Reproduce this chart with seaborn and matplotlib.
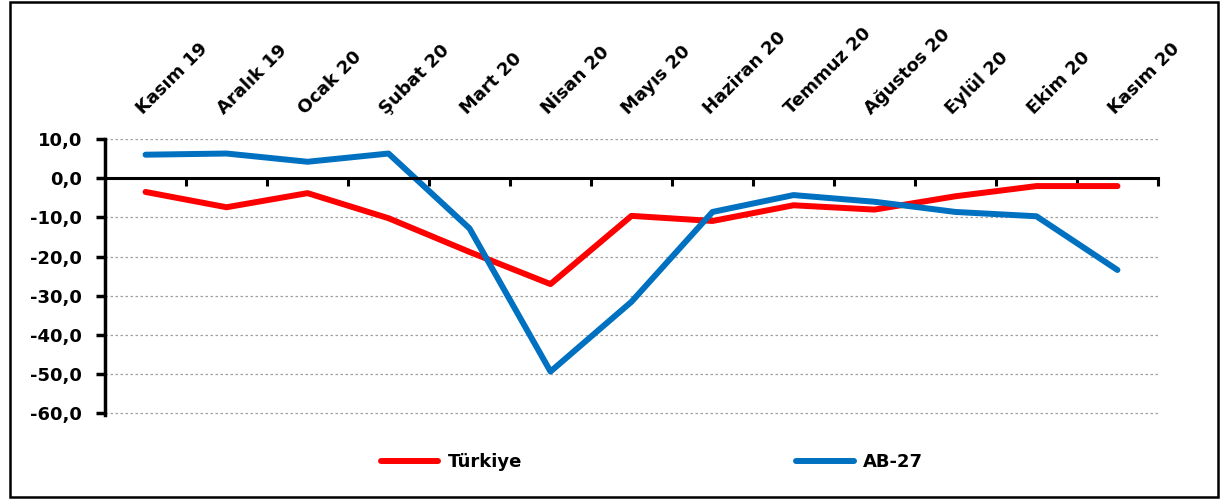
import numpy as np
import pandas as pd
import matplotlib
matplotlib.use("Agg")
import matplotlib.pyplot as plt
import matplotlib.ticker as mticker
from matplotlib.patches import Rectangle
import seaborn as sns

# data
months = ["Kasım 19", "Aralık 19", "Ocak 20", "Şubat 20", "Mart 20", "Nisan 20",
          "Mayıs 20", "Haziran 20", "Temmuz 20", "Ağustos 20", "Eylül 20",
          "Ekim 20", "Kasım 20"]
turkiye = [-3.5, -7.4, -3.8, -10.2, -18.8, -27.0, -9.6, -10.9, -6.9, -8.0, -4.6, -2.0, -2.0]
ab27 = [6.0, 6.3, 4.2, 6.3, -12.8, -49.3, -31.5, -8.6, -4.3, -6.0, -8.6, -9.7, -23.4]
series_names = ["Türkiye", "AB-27"]
colors = {"Türkiye": "#FF0000", "AB-27": "#0070C0"}

df = pd.DataFrame({
    "idx": list(range(len(months))) * 2,
    "value": turkiye + ab27,
    "series": [series_names[0]] * len(months) + [series_names[1]] * len(months),
})

sns.set_style("white")
plt.rcParams["font.family"] = ["DejaVu Sans"]
plt.rcParams["font.weight"] = "bold"
plt.rcParams["text.color"] = "black"
plt.rcParams["axes.edgecolor"] = "black"
plt.rcParams["xtick.color"] = "black"
plt.rcParams["ytick.color"] = "black"

FS = 13

fig = plt.figure(figsize=(12.23, 4.99), dpi=100)
ax = fig.add_axes([0.0859, 0.1690, 0.8609, 0.5524])

sns.lineplot(data=df, x="idx", y="value", hue="series", palette=colors,
             linewidth=4.3, sort=False, ax=ax, legend=False,
             solid_capstyle="round", solid_joinstyle="round")

ax.set_xlim(-0.5, 12.5)
ax.set_ylim(-60.3, 10)
ax.set_xlabel("")
ax.set_ylabel("")

# y axis
ax.yaxis.set_major_locator(mticker.MultipleLocator(10))
ax.yaxis.set_major_formatter(mticker.FuncFormatter(lambda v, p: f"{v:.1f}".replace(".", ",")))
ax.tick_params(axis="y", which="major", direction="out", length=6.5, width=2.5,
               left=True, labelsize=FS, colors="black", pad=10)
for lab in ax.get_yticklabels():
    lab.set_fontweight("bold")
ax.yaxis.grid(True, color="#a0a0a0", linestyle=(0, (2, 2)), linewidth=0.9)
ax.set_axisbelow(True)

# x axis: spine at zero, labels on top
ax.spines["bottom"].set_position(("data", 0))
ax.spines["bottom"].set_linewidth(2.2)
ax.spines["left"].set_linewidth(2.5)
ax.spines["top"].set_visible(False)
ax.spines["right"].set_visible(False)
ax.set_xticks(range(len(months)))
ax.set_xticklabels(months, rotation=45, ha="left", va="bottom",
                   rotation_mode="anchor", fontweight="bold", fontsize=FS)
ax.set_xticks(np.arange(0.5, 13, 1), minor=True)
ax.tick_params(axis="x", which="major", length=0, labeltop=True, labelbottom=False,
               top=False, bottom=False, pad=15)
ax.tick_params(axis="x", which="minor", direction="out", length=6, width=2.2,
               bottom=True, top=False)

# legend
handles = [plt.Line2D([], [], color=colors[n], linewidth=4.3, solid_capstyle="round")
           for n in series_names]
leg = fig.legend(handles, series_names, loc="center", bbox_to_anchor=(0.533, 0.074),
                 ncol=2, frameon=False, handlelength=3.2, handletextpad=0.5,
                 columnspacing=15.2, prop={"weight": "bold", "size": FS})

# outer border
fig.patches.append(Rectangle((0.008, 0.004), 0.988, 0.992, transform=fig.transFigure,
                             fill=False, edgecolor="black", linewidth=1.8))

plt.savefig("out.png", dpi=100)
